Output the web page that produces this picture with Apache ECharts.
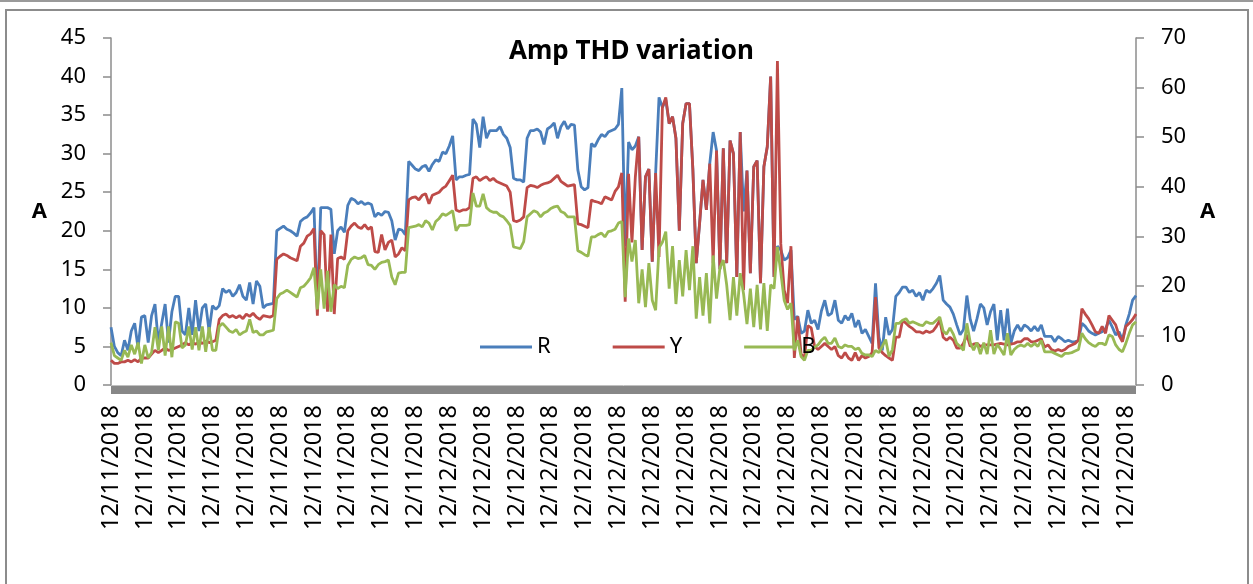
<!DOCTYPE html>
<html>
<head>
<meta charset="utf-8">
<title>Amp THD variation</title>
<script src="https://cdn.jsdelivr.net/npm/echarts@6/dist/echarts.min.js"></script>
<style>
  body { margin: 0; background: #fff; }
  #topLine { position: absolute; left: 0; top: 0; width: 1253px; height: 2px; background: #9a9a9a; }
  #frame { position: absolute; left: 5px; top: 9px; width: 1244px; height: 590px; border: 2px solid #8c8c8c; box-sizing: border-box; }
  #myChart { position: absolute; left: 0; top: 0; width: 1253px; height: 584px; }
</style>
</head>
<body>
<div id="topLine"></div>
<div id="frame"></div>
<div id="myChart"></div>
<script>
// tick labels: one date per day, repeated for each reading of that day
var dayLabels = ['12/11/2018', '12/12/2018'];
var pointsPerDay = [100, 204];

var seriesNames = ['R', 'Y', 'B'];

// values, rows of 10 readings
var rData = [
  7.5, 5.0, 4.2, 3.8, 5.8, 4.5, 7.0, 8.0, 4.8, 8.8,
  9.0, 5.5, 9.0, 10.5, 5.5, 8.0, 10.5, 5.5, 9.5, 11.5,
  11.5, 7.0, 6.5, 10.0, 6.5, 11.0, 7.0, 10.0, 10.5, 7.0,
  10.3, 9.8, 10.3, 12.5, 12.0, 12.3, 11.5, 12.0, 13.0, 11.5,
  11.0, 13.3, 10.5, 13.5, 12.8, 10.0, 10.4, 10.5, 10.6, 20.0,
  20.3, 20.6, 20.2, 20.0, 19.7, 19.3, 21.2, 21.6, 21.8, 22.3,
  23.0, 9.8, 23.0, 23.0, 23.0, 22.8, 17.0, 20.0, 20.5, 19.8,
  23.3, 24.2, 24.0, 23.5, 23.8, 23.4, 23.6, 23.4, 21.8, 22.3,
  22.0, 22.5, 22.4, 21.3, 18.8, 20.2, 20.1, 19.5, 29.0, 28.5,
  28.0, 27.8, 28.3, 28.5, 27.7, 28.6, 29.2, 29.0, 30.2, 30.0,
  31.0, 32.3, 26.6, 27.0, 27.0, 27.2, 27.3, 34.5, 33.8, 30.8,
  34.8, 32.0, 33.0, 33.0, 33.0, 33.5, 32.5, 32.0, 30.8, 26.8,
  26.6, 26.6, 26.3, 32.0, 33.0, 33.0, 33.2, 32.8, 31.2, 33.2,
  33.5, 34.0, 32.0, 33.5, 34.2, 33.2, 33.8, 33.7, 27.9, 25.7,
  25.3, 25.6, 31.3, 30.9, 31.8, 32.5, 32.2, 32.8, 33.0, 33.2,
  33.8, 38.5, 18.0, 31.5, 30.5, 31.0, 32.2, 17.5, 27.0, 28.0,
  16.0, 27.5, 37.3, 36.0, 37.0, 33.9, 34.8, 32.0, 20.0, 33.9,
  36.5, 36.5, 28.0, 15.8, 21.0, 26.6, 22.7, 28.7, 32.8, 30.4,
  15.0, 30.7, 15.8, 31.7, 30.0, 14.0, 32.8, 22.5, 27.8, 14.5,
  28.3, 29.1, 13.2, 28.3, 30.9, 40.0, 14.0, 18.0, 17.5, 16.2,
  16.5, 17.5, 8.5, 8.9, 6.7, 7.0, 9.7, 8.0, 8.4, 7.2,
  9.6, 11.0, 9.0, 9.3, 11.0, 8.4, 8.0, 9.0, 8.4, 9.3,
  7.5, 8.4, 6.7, 7.2, 6.3, 5.4, 13.2, 6.2, 4.5, 8.8,
  6.5, 7.2, 11.5, 12.0, 12.7, 12.7, 12.0, 12.3, 11.5, 12.0,
  11.0, 12.3, 12.0, 12.5, 13.2, 14.2, 11.0, 10.5, 10.1, 9.2,
  7.8, 6.5, 7.2, 11.6, 8.5, 7.0, 8.6, 10.5, 10.0, 7.8,
  9.5, 10.5, 5.8, 9.7, 5.8, 9.9, 5.4, 7.0, 7.8, 7.0,
  7.8, 7.5, 7.0, 7.6, 7.0, 7.8, 6.3, 6.3, 6.3, 5.6,
  6.3, 6.0, 5.6, 5.8, 5.6, 5.6, 5.8, 8.0, 7.6, 7.0,
  6.7, 6.5, 6.7, 6.9, 7.3, 8.4, 7.5, 6.5, 6.9, 5.8,
  7.8, 9.2, 11.0, 11.6
];

var yData = [
  3.2, 2.8, 2.8, 3.0, 3.0, 3.2, 3.0, 3.3, 3.0, 3.5,
  3.5, 3.5, 4.0, 4.5, 4.2, 4.5, 4.8, 4.5, 4.6, 4.8,
  5.0, 5.2, 5.5, 5.2, 5.5, 5.3, 5.6, 5.4, 5.7, 5.5,
  5.6, 5.8, 8.5, 9.0, 9.2, 8.8, 9.0, 8.7, 9.0, 8.6,
  9.2, 8.9, 9.3, 8.8, 8.5, 9.0, 8.9, 8.8, 9.0, 16.3,
  16.7, 17.0, 16.8, 16.5, 16.3, 16.1, 18.0, 18.4, 19.3, 19.6,
  20.3, 9.0, 20.0, 19.5, 9.5, 19.5, 9.2, 16.4, 16.6, 16.3,
  20.0, 20.6, 21.0, 20.5, 20.3, 20.8, 20.2, 20.5, 17.3, 17.2,
  19.5, 17.5, 18.5, 18.8, 16.6, 17.0, 17.8, 17.4, 24.0, 24.3,
  24.4, 24.0, 24.6, 24.8, 23.5, 24.6, 24.8, 25.0, 25.5, 25.8,
  26.5, 27.2, 22.7, 22.5, 22.7, 22.7, 23.0, 26.8, 27.0, 26.5,
  26.8, 27.0, 26.5, 26.8, 26.4, 26.2, 26.0, 25.8, 25.0, 21.3,
  21.2, 21.4, 21.8, 25.6, 25.9, 25.8, 25.6, 25.9, 26.1, 26.2,
  26.4, 26.8, 27.2, 26.4, 26.1, 25.8, 25.9, 26.0, 20.9, 20.8,
  20.6, 20.4, 24.0, 23.8, 23.7, 23.5, 24.4, 24.2, 24.0, 25.1,
  25.7, 27.5, 10.8, 27.4, 18.5, 27.0, 32.2, 17.5, 27.0, 28.0,
  16.0, 27.5, 16.6, 36.0, 37.3, 33.9, 34.8, 32.0, 20.0, 33.9,
  36.5, 36.5, 28.0, 15.8, 21.0, 26.6, 22.7, 28.7, 15.8, 30.4,
  15.0, 30.7, 15.8, 31.7, 30.0, 14.0, 32.8, 12.3, 27.8, 14.5,
  28.3, 29.1, 13.2, 28.3, 30.9, 40.0, 14.0, 42.0, 18.3, 12.3,
  10.6, 18.0, 3.5, 8.9, 4.0, 3.5, 7.7, 7.4, 5.0, 4.6,
  5.0, 5.4, 5.0, 4.6, 5.0, 3.8, 3.5, 4.2, 3.5, 3.2,
  4.2, 3.2, 3.8, 3.5, 3.7, 4.2, 11.4, 4.8, 4.2, 3.8,
  3.5, 3.2, 6.2, 6.2, 8.4, 8.0, 7.6, 7.3, 6.9, 6.9,
  6.7, 7.0, 6.8, 7.0, 7.6, 8.4, 6.2, 5.8, 6.2, 5.8,
  4.8, 4.8, 5.4, 6.5, 5.0, 5.3, 5.4, 5.0, 5.2, 5.2,
  5.2, 5.2, 5.3, 5.4, 5.3, 5.2, 5.3, 5.4, 5.6, 5.6,
  6.0, 6.0, 5.6, 5.6, 5.8, 6.0, 4.9, 5.2, 4.6, 4.4,
  4.6, 4.4, 4.6, 5.0, 5.2, 5.4, 5.8, 9.9, 9.2, 8.6,
  7.8, 6.9, 6.7, 7.6, 6.7, 9.0, 8.4, 7.8, 6.4, 5.6,
  7.6, 8.0, 8.5, 9.2
];

var bData = [
  5.5, 3.8, 3.5, 3.2, 4.5, 3.6, 5.2, 4.0, 5.5, 2.8,
  5.2, 3.5, 4.2, 7.5, 4.5, 7.6, 3.8, 7.6, 3.6, 8.2,
  8.0, 4.8, 5.2, 7.6, 4.6, 7.5, 4.5, 7.6, 4.3, 7.5,
  4.5, 4.5, 7.6, 8.0, 7.5, 7.0, 6.8, 7.2, 6.5, 6.8,
  7.0, 8.5, 6.8, 7.0, 6.5, 6.5, 6.9, 7.0, 7.1, 11.2,
  11.8, 12.0, 12.3, 12.0, 11.7, 11.4, 12.6, 12.8, 13.3, 13.9,
  15.2, 9.8, 15.0, 9.9, 14.8, 9.5, 13.0, 12.5, 12.8, 12.6,
  15.5, 16.3, 16.6, 16.4, 16.5, 16.8, 15.6, 15.5, 15.0, 15.6,
  15.9, 16.0, 16.2, 14.0, 13.0, 14.5, 14.6, 14.6, 20.4, 20.5,
  20.6, 20.8, 20.5, 21.3, 21.0, 20.1, 21.2, 21.6, 22.2, 22.0,
  22.3, 22.6, 20.0, 20.7, 20.7, 20.7, 20.8, 24.9, 23.2, 23.2,
  24.8, 23.0, 22.6, 22.4, 22.4, 22.0, 21.8, 21.3, 20.7, 17.9,
  17.8, 17.7, 18.6, 21.8, 22.2, 22.6, 22.4, 21.8, 22.3, 22.5,
  22.9, 23.1, 23.2, 22.5, 22.3, 21.8, 21.8, 21.8, 17.4, 17.2,
  16.9, 16.7, 19.2, 19.2, 19.5, 19.7, 19.2, 19.9, 20.0, 20.2,
  21.0, 21.2, 11.4, 19.0, 16.0, 18.8, 10.6, 15.0, 10.1, 15.8,
  11.0, 9.7, 17.8, 18.5, 19.9, 12.5, 18.0, 10.5, 16.2, 11.5,
  17.5, 12.3, 18.0, 8.6, 14.0, 9.0, 14.5, 8.0, 16.8, 11.2,
  15.2, 16.2, 13.0, 8.4, 14.0, 9.0, 14.5, 11.8, 7.9, 12.5,
  7.5, 13.0, 7.2, 13.2, 7.0, 13.0, 12.5, 17.9, 14.6, 11.0,
  9.8, 10.6, 4.5, 5.8, 3.7, 3.2, 4.5, 4.5, 4.9, 5.2,
  5.8, 6.2, 5.4, 5.4, 6.1, 5.0, 4.8, 5.2, 5.0, 5.0,
  4.6, 4.8, 4.1, 3.9, 3.9, 3.7, 4.5, 4.2, 5.0, 5.9,
  3.7, 4.6, 8.0, 8.0, 8.4, 8.6, 8.0, 8.2, 8.0, 7.8,
  7.7, 8.2, 8.0, 8.0, 8.4, 8.8, 7.0, 6.6, 7.4, 6.6,
  5.4, 5.0, 4.5, 8.0, 5.5, 4.5, 5.5, 4.0, 5.5, 4.0,
  7.1, 4.0, 5.3, 4.6, 3.9, 6.7, 3.9, 4.6, 5.0, 5.2,
  5.0, 5.4, 5.0, 5.4, 5.0, 5.8, 4.3, 4.3, 4.3, 4.1,
  3.9, 3.7, 4.1, 4.1, 4.2, 4.4, 4.6, 6.7, 6.0, 5.5,
  5.2, 5.0, 5.4, 5.4, 5.2, 6.5, 6.3, 5.2, 4.6, 4.3,
  5.4, 6.7, 7.8, 8.2
];

var leftTicks = { min: 0, max: 45, interval: 5 };
var rightTicks = { min: 0, max: 70, interval: 10 };

var FONT = '"Noto Sans", "DejaVu Sans", sans-serif';

function buildCategories () {
  var cats = [];
  for (var d = 0; d < dayLabels.length; d++) {
    for (var k = 0; k < pointsPerDay[d]; k++) {
      cats.push(dayLabels[d]);
    }
  }
  return cats;
}

function valueAxis (ticks, pos, gap) {
  return {
    type: 'value',
    position: pos,
    min: ticks.min,
    max: ticks.max,
    interval: ticks.interval,
    name: 'A',
    nameLocation: 'middle',
    nameRotate: 0,
    nameGap: gap,
    nameTextStyle: { fontFamily: FONT, fontSize: 22, fontWeight: 'bold', color: '#000' },
    axisLine: { show: true, lineStyle: { color: '#8c8c8c', width: 1.5 } },
    axisTick: { show: true, length: 8, lineStyle: { color: '#8c8c8c', width: 1.5 } },
    axisLabel: { margin: 25, fontFamily: FONT, fontSize: 22, color: '#000' },
    splitLine: { show: false }
  };
}

function organizeOption () {
  var categories = buildCategories();
  var colors = ['#4A7EBB', '#BE4B48', '#98B954'];
  var values = [rData, yData, bData];

  var series = seriesNames.map(function (name, i) {
    return {
      name: name,
      type: 'line',
      data: values[i],
      showSymbol: false,
      symbol: 'none',
      lineStyle: { color: colors[i], width: 2.8 },
      itemStyle: { color: colors[i] }
    };
  });

  return {
    animation: false,
    title: {
      text: 'Amp THD variation',
      left: 504,
      top: 34,
      textStyle: { fontFamily: FONT, fontSize: 26, fontWeight: 'bold', color: '#000' }
    },
    legend: {
      data: seriesNames,
      left: 480,
      top: 336,
      padding: 0,
      icon: 'rect',
      itemWidth: 52,
      itemHeight: 3,
      itemGap: 62,
      textStyle: { fontFamily: FONT, fontSize: 22, color: '#000' }
    },
    grid: { left: 111, right: 117, top: 38, bottom: 199 },
    xAxis: {
      type: 'category',
      data: categories,
      boundaryGap: false,
      axisLine: { lineStyle: { color: '#c0c0c0', width: 1 } },
      axisTick: { show: false },
      axisLabel: { interval: 9, rotate: 90, margin: 20, fontFamily: FONT, fontSize: 23.5, color: '#000' }
    },
    yAxis: [valueAxis(leftTicks, 'left', 64), valueAxis(rightTicks, 'right', 64)],
    series: series
  };
}

var myChart = echarts.init(document.getElementById('myChart'));
myChart.setOption(organizeOption());

// thick grey band just under the category axis, sized from the grid
var first = myChart.convertToPixel({ gridIndex: 0 }, [0, 0]);
var last = myChart.convertToPixel({ gridIndex: 0 }, [rData.length - 1, 0]);
myChart.setOption({
  graphic: [{
    type: 'rect',
    z: 5,
    shape: { x: first[0], y: first[1] + 1, width: last[0] - first[0], height: 8 },
    style: { fill: '#878787' }
  }]
});
</script>
</body>
</html>
